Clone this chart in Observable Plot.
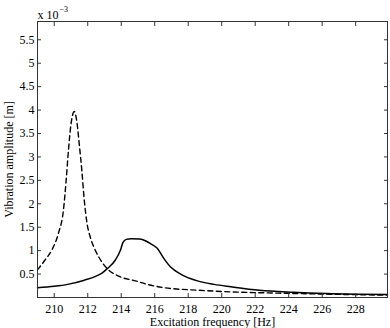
<!DOCTYPE html>
<html>
<head>
<meta charset="utf-8">
<script src="https://cdn.jsdelivr.net/npm/d3@7"></script>
<script src="https://cdn.jsdelivr.net/npm/@observablehq/plot@0.6"></script>
<style>
  html, body { margin: 0; padding: 0; background: #fff; }
</style>
</head>
<body>
<div id="chart"></div>
<script>
// Excitation frequency [Hz] and vibration amplitude (×10^-3 m)
const dashedFreq = [209.0, 209.45, 209.85, 210.25, 210.55, 210.7, 210.85, 211.0, 211.2, 211.35, 211.5, 211.65, 211.8, 211.95, 212.15, 212.4, 212.65, 213.15, 213.85, 214.85, 215.55, 216.55, 218.55, 220.55, 222.5, 224.5, 226.5, 229.9];
const dashedAmp  = [0.59, 0.80, 1.01, 1.37, 1.87, 2.45, 3.15, 3.7, 3.97, 3.75, 3.25, 2.7, 2.05, 1.6, 1.29, 1.05, 0.87, 0.62, 0.455, 0.355, 0.28, 0.21, 0.156, 0.12, 0.10, 0.085, 0.07, 0.05];

const solidFreq = [209.0, 210.0, 210.8, 211.8, 212.4, 212.85, 213.15, 213.65, 213.95, 214.1, 214.3, 214.6, 215.1, 215.5, 215.75, 216.15, 216.55, 216.95, 217.55, 218.55, 219.55, 220.55, 222.25, 224.25, 226.25, 229.9];
const solidAmp  = [0.21, 0.24, 0.28, 0.37, 0.44, 0.52, 0.61, 0.80, 1.01, 1.17, 1.24, 1.255, 1.25, 1.2, 1.15, 1.05, 0.83, 0.65, 0.50, 0.355, 0.28, 0.23, 0.156, 0.113, 0.085, 0.065];

const xTicks = [210, 212, 214, 216, 218, 220, 222, 224, 226, 228];
const yTicks = [0.5, 1, 1.5, 2, 2.5, 3, 3.5, 4, 4.5, 5, 5.5];
const xDomain = [209, 229.9];
const yDomain = [0, 5.89];

const dashed = dashedFreq.map((f, i) => ({f, a: dashedAmp[i]}));
const solid = solidFreq.map((f, i) => ({f, a: solidAmp[i]}));

const axisColor = "#333";
const fmt = d => String(d);

const chart = Plot.plot({
  width: 390,
  height: 328,
  marginLeft: 37,
  marginTop: 21,
  marginRight: 3,
  marginBottom: 31,
  style: "font-family: 'Liberation Serif', serif; font-size: 12px; background: #fff; color: #000;",
  x: {domain: xDomain},
  y: {domain: yDomain},
  marks: [
    Plot.line(dashed, {x: "f", y: "a", stroke: "#000", strokeWidth: 1.4, strokeDasharray: "5,3.5", curve: "monotone-x"}),
    Plot.line(solid, {x: "f", y: "a", stroke: "#000", strokeWidth: 1.5, curve: "monotone-x"}),
    Plot.frame({stroke: axisColor, strokeWidth: 1}),
    Plot.axisX(xTicks, {anchor: "bottom", tickSize: -4, tickPadding: 11, stroke: axisColor, fill: "#000", tickFormat: fmt,
      label: "Excitation frequency [Hz]", labelAnchor: "center", labelOffset: 28, labelArrow: "none"}),
    Plot.axisX(xTicks, {anchor: "top", tickSize: -4, stroke: axisColor, tickFormat: () => "", label: null}),
    Plot.axisY(yTicks, {anchor: "left", tickSize: -4, tickPadding: 7, stroke: axisColor, fill: "#000", tickFormat: fmt,
      label: "Vibration amplitude [m]", labelAnchor: "center", labelOffset: 33, labelArrow: "none"}),
    Plot.axisY(yTicks, {anchor: "right", tickSize: -4, stroke: axisColor, tickFormat: () => "", label: null}),
    Plot.text(["x 10"], {frameAnchor: "top-left", textAnchor: "start", lineAnchor: "bottom", dy: -3, fontSize: 12}),
    Plot.text(["\u22123"], {frameAnchor: "top-left", textAnchor: "start", lineAnchor: "bottom", dx: 22, dy: -10, fontSize: 8})
  ]
});
document.getElementById("chart").appendChild(chart);
</script>
</body>
</html>
